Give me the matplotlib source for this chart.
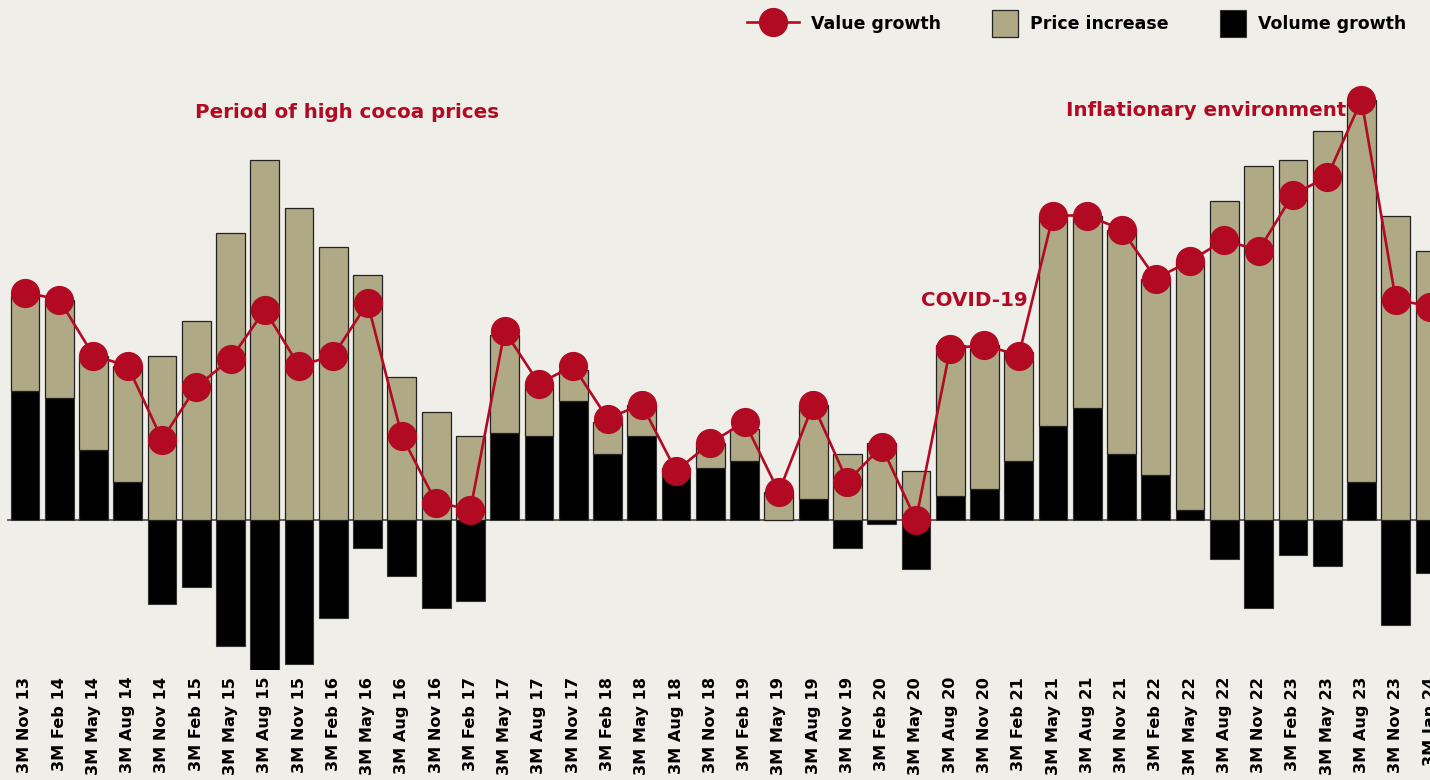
import matplotlib
matplotlib.use("Agg")
import matplotlib.pyplot as plt
from matplotlib.lines import Line2D
from matplotlib.patches import Patch, Rectangle
from matplotlib.legend_handler import HandlerPatch
import numpy as np

categories = ["3M Nov 13", "3M Feb 14", "3M May 14", "3M Aug 14", "3M Nov 14", "3M Feb 15",
              "3M May 15", "3M Aug 15", "3M Nov 15", "3M Feb 16", "3M May 16", "3M Aug 16",
              "3M Nov 16", "3M Feb 17", "3M May 17", "3M Aug 17", "3M Nov 17", "3M Feb 18",
              "3M May 18", "3M Aug 18", "3M Nov 18", "3M Feb 19", "3M May 19", "3M Aug 19",
              "3M Nov 19", "3M Feb 20", "3M May 20", "3M Aug 20", "3M Nov 20", "3M Feb 21",
              "3M May 21", "3M Aug 21", "3M Nov 21", "3M Feb 22", "3M May 22", "3M Aug 22",
              "3M Nov 22", "3M Feb 23", "3M May 23", "3M Aug 23", "3M Nov 23", "3M Jan 24"]

value_growth = [6.5, 6.3, 4.7, 4.4, 2.3, 3.8, 4.6, 6.0, 4.4, 4.7, 6.2, 2.4, 0.5, 0.3,
                5.4, 3.9, 4.4, 2.9, 3.3, 1.4, 2.2, 2.8, 0.8, 3.3, 1.1, 2.1, 0.0, 4.9,
                5.0, 4.7, 8.7, 8.7, 8.3, 6.9, 7.4, 8.0, 7.7, 9.3, 9.8, 12.0, 6.3, 6.1]

volume_growth = [3.7, 3.5, 2.0, 1.1, -2.4, -1.9, -3.6, -4.3, -4.1, -2.8, -0.8, -1.6, -2.5, -2.3,
                 2.5, 2.4, 3.4, 1.9, 2.4, 1.4, 1.5, 1.7, 0.0, 0.6, -0.8, -0.1, -1.4, 0.7,
                 0.9, 1.7, 2.7, 3.2, 1.9, 1.3, 0.3, -1.1, -2.5, -1.0, -1.3, 1.1, -3.0, -1.5]

price_increase = [2.7, 2.8, 2.7, 3.3, 4.7, 5.7, 8.2, 10.3, 8.9, 7.8, 7.0, 4.1, 3.1, 2.4,
                  2.8, 1.5, 0.9, 0.9, 0.9, 0.1, 0.7, 0.9, 0.8, 2.7, 1.9, 2.2, 1.4, 4.3,
                  4.1, 3.1, 6.0, 5.5, 6.4, 5.6, 7.1, 9.1, 10.1, 10.3, 11.1, 10.9, 8.7, 7.7]

legend_labels = ["Value growth", "Price increase", "Volume growth"]

BG = "#EFEEE8"
TAN = "#AFA986"
RED = "#B20A22"
FONT = "DejaVu Sans"

plt.rcParams['font.family'] = [FONT]

fig = plt.figure(figsize=(14.3, 7.8), dpi=100, facecolor=BG)
ax = fig.add_axes([0, 110 / 780, 1, 670 / 780])
ax.set_facecolor(BG)

x = np.arange(len(categories))
vol = np.array(volume_growth)
price = np.array(price_increase)
price_bottom = np.clip(vol, 0, None)

ax.axhline(0, color="#555555", lw=1.3, zorder=1, xmin=8 / 1430)
ax.bar(x, vol, width=0.84, color="black", edgecolor="#333333", linewidth=0.8, zorder=2)
ax.bar(x, price, bottom=price_bottom, width=0.84, color=TAN, edgecolor="#222222",
       linewidth=0.9, zorder=2)
ax.plot(x, value_growth, color=RED, lw=1.9, marker="o", markersize=20, zorder=3)

ax.set_xlim(-25 / 34.4, (1430 - 25) / 34.4)
ax.set_ylim(-150 / 35, 520 / 35)
ax.set_xticks(x)
ax.set_xticklabels(categories, rotation=90, fontsize=11.6, fontweight="bold", family=FONT)
ax.tick_params(axis="x", length=0, pad=5)
ax.set_yticks([])
for s in ax.spines.values():
    s.set_visible(False)

ax.text(9.39, 11.63, "Period of high cocoa prices", color=RED, fontsize=14.3,
        fontweight="bold", ha="center", va="center")
ax.text(29.27, 6.26, "COVID-19", color=RED, fontsize=14.3, fontweight="bold",
        ha="right", va="center")
ax.text(38.57, 11.71, "Inflationary environment", color=RED, fontsize=14.3,
        fontweight="bold", ha="right", va="center")


def square_right(legend, orig_handle, xdescent, ydescent, width, height, fontsize):
    side = 19.0
    cy = -ydescent + height / 2
    return Rectangle((-xdescent + width - side, cy - side / 2), side, side)


handles = [
    Line2D([0], [0], color=RED, lw=1.9, marker="o", markersize=20),
    Patch(facecolor=TAN, edgecolor="#222222", linewidth=0.9),
    Patch(facecolor="black", edgecolor="#333333", linewidth=0.8),
]
leg = fig.legend(handles, legend_labels, loc="center right",
                 bbox_to_anchor=(0.9945, 1 - 24 / 780),
                 ncol=3, frameon=False, prop={"family": FONT, "weight": "bold", "size": 12.5},
                 handlelength=3.0, handleheight=1.2, columnspacing=1.45, handletextpad=0.7,
                 handler_map={Patch: HandlerPatch(patch_func=square_right)})

fig.savefig("out.png", dpi=100, facecolor=BG)
